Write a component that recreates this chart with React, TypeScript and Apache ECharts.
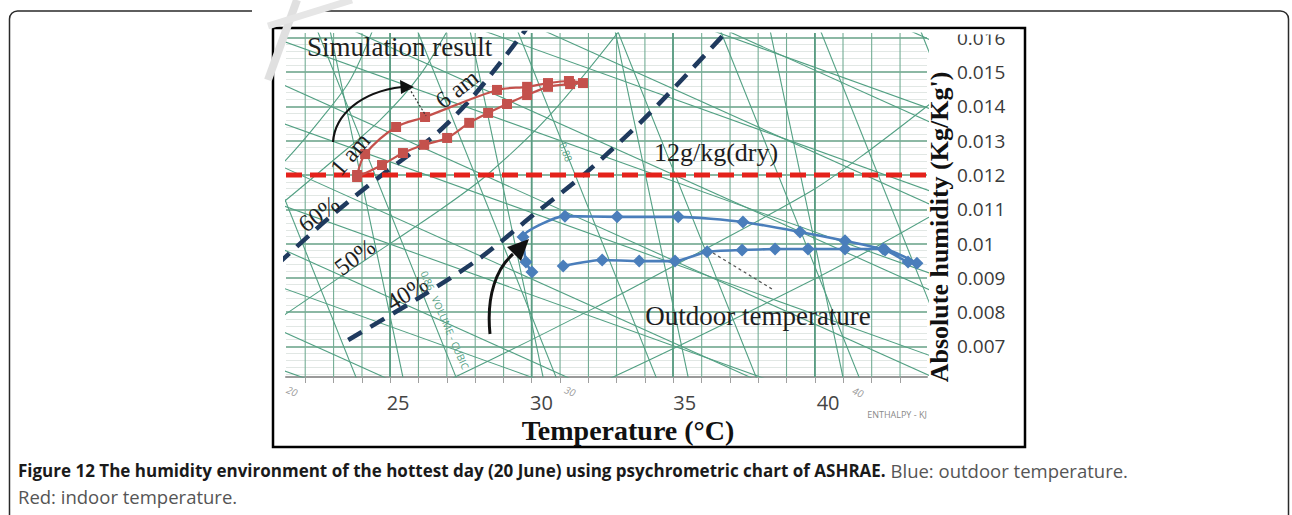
import { useEffect, useRef } from 'react';
import * as echarts from 'echarts';

// ---------- axes ----------
const temperatureTicks = [25, 30, 35, 40];
const temperatureRange = [21.09, 43.45];
const humidityRange = [0.00611, 0.01614];
const targetHumidity = 0.012; // 12 g/kg(dry)

// ---------- series: [dry-bulb temperature (°C), absolute humidity (kg/kg')] ----------
const indoorSimulation: number[][] = [
  [23.57, 0.01200], [23.85, 0.01261], [24.93, 0.01340], [25.94, 0.01369],
  [28.45, 0.01448], [29.5, 0.01457], [30.23, 0.01468], [30.96, 0.01474],
  [31.45, 0.01468], [31.0, 0.01465], [30.23, 0.01457], [29.5, 0.01433],
  [28.8, 0.01407], [28.14, 0.01381], [27.48, 0.01352], [26.71, 0.01308],
  [25.91, 0.01288], [25.17, 0.01264], [24.44, 0.01229], [23.57, 0.01194],
];
const outdoorObserved: number[][] = [
  [29.67, 0.00917], [29.46, 0.00946], [29.36, 0.01019], [30.82, 0.0108],
  [32.64, 0.01078], [34.77, 0.01078], [37.03, 0.01063], [39.02, 0.01034],
  [40.59, 0.01008], [41.99, 0.00981], [42.79, 0.00946], [43.1, 0.00943],
  [41.92, 0.00984], [40.59, 0.00984], [39.3, 0.00984], [38.15, 0.00984],
  [37.0, 0.00981], [35.78, 0.00976], [34.66, 0.00949], [33.41, 0.00949],
  [32.12, 0.00952], [30.76, 0.00935],
];

// ---------- psychrometric chart background ----------
const dryBulbLines = [21.76, 22.75, 23.74, 24.72, 25.71, 26.7, 27.69, 28.68, 29.66, 30.65, 31.64,
  32.62, 33.61, 34.59, 35.59, 36.58, 37.56, 38.55, 39.54, 40.52, 41.52, 42.51];
const dryBulbMajorLines = [24.72, 29.66, 34.59, 39.54];
// [t1, h1, t2, h2]
const enthalpyLines = [
  [20, 0.0248, 45, 0.0154], [20, 0.0224, 45, 0.013], [20, 0.02, 45, 0.0106], [20, 0.0175, 45, 0.0081],
  [20, 0.015, 45, 0.0056], [20, 0.0126, 45, 0.0032], [20, 0.0102, 45, 0.0008], [20, 0.0078, 45, -0.0016],
];
const wetBulbLines = [
  [20, 0.0234, 45, 0.0159], [20, 0.021, 45, 0.0135], [20, 0.0186, 45, 0.0111], [20, 0.0162, 45, 0.0087],
  [20, 0.0138, 45, 0.0063], [20, 0.0114, 45, 0.0039], [20, 0.009, 45, 0.0015], [20, 0.0066, 45, -0.0009],
];
const volumeLines = [
  [18.22, 0.0172, 23.82, 0.0055], [21.71, 0.0172, 27.31, 0.0055], [25.2, 0.0172, 30.8, 0.0055],
  [28.69, 0.0172, 34.29, 0.0055], [32.18, 0.0172, 37.78, 0.0055], [35.77, 0.0172, 41.37, 0.0055],
  [39.26, 0.0172, 44.86, 0.0055], [42.75, 0.0172, 48.35, 0.0055],
];
const steepLines = [
  [22.63, 0.0162, 25.17, 0.0061], [27.51, 0.0162, 30.06, 0.0061],
  [32.57, 0.0162, 35.12, 0.0061], [37.98, 0.0162, 40.52, 0.0061],
];
const rh80Curve = [[20.5, 0.012], [21.09, 0.01244], [22.28, 0.0136], [23.33, 0.01477], [24.2, 0.0164]];
const rh70Curve = [[20.5, 0.0109], [21.09, 0.01127], [22.63, 0.01235], [24.37, 0.0136], [25.77, 0.01492], [26.85, 0.0164]];
const rh50Curve = [[20.5, 0.0076], [21.09, 0.00795], [23.5, 0.00932], [26.46, 0.01098], [28.1, 0.012], [30.3, 0.01375], [32.9, 0.0164]];
const rh30Curve = [[26.0, 0.0058], [26.99, 0.00611], [31.7, 0.00806], [35.53, 0.00976], [39.47, 0.01156], [41.46, 0.01273], [43.6, 0.0141]];
const rh20Curve = [[31.5, 0.0058], [32.5, 0.00611], [38.08, 0.00836], [41.46, 0.00981], [44.0, 0.011]];
const rh60Dashed = [[20.8, 0.0094], [22.63, 0.01078], [24.48, 0.01203], [26.29, 0.01317], [27.51, 0.01419], [28.56, 0.01527], [29.6, 0.0164]];
const rh40Dashed = [[23.26, 0.00719], [25.77, 0.00844], [27.86, 0.00958], [29.71, 0.01083], [31.59, 0.01209], [33.79, 0.01381], [36.7, 0.0164]];

const SERIF = '"Liberation Serif", "Times New Roman", serif';
const SANS = '"Open Sans", "Noto Sans", sans-serif';
const GREEN = '#52a083';

function segments(list: number[][], color: string, width: number) {
  return list.map((s) => ({
    type: 'line', data: [[s[0], s[1]], [s[2], s[3]]], symbol: 'none', silent: true, z: 1,
    clip: true, lineStyle: { color, width },
  }));
}
function curve(data: number[][], lineStyle: any, z: number) {
  return { type: 'line', data, symbol: 'none', smooth: 0.3, silent: true, z, clip: true, lineStyle };
}
function label(text: string, x: number, y: number, size: number, rotation = 0, extra: any = {}) {
  return {
    type: 'text', x, y, rotation, z: 100, silent: true,
    style: {
      text, fill: extra.fill || '#1e1e1e', fontSize: size, fontFamily: extra.family || SERIF,
      fontWeight: extra.weight || 'normal', fontStyle: extra.style || 'normal',
      align: 'center', verticalAlign: 'middle', textAlign: 'center', textVerticalAlign: 'middle',
    },
  };
}

export default function App() {
  const ref = useRef<HTMLDivElement>(null);
  useEffect(() => {
    if (!ref.current) return;
    const chart = echarts.init(ref.current, undefined, { renderer: 'svg' });
    const verticals = dryBulbLines.map((t) => [t, humidityRange[0], t, humidityRange[1]]);
    const majors = dryBulbMajorLines.map((t) => [t, humidityRange[0], t, humidityRange[1]]);
    const option: any = {
      animation: false,
      backgroundColor: '#ffffff',
      grid: { left: 286, top: 33, width: 641, height: 344, containLabel: false },
      xAxis: {
        type: 'value', min: temperatureRange[0], max: temperatureRange[1],
        splitLine: { show: false },
        axisLine: { show: true, onZero: false, lineStyle: { color: '#9a9a9a', width: 2 } },
        axisTick: { show: true, customValues: dryBulbLines, length: 6, lineStyle: { color: '#a0a0a0', width: 1 } },
        axisLabel: { customValues: temperatureTicks, margin: 16, fontSize: 20, lineHeight: 18, color: '#444', fontFamily: SANS },
      },
      yAxis: {
        type: 'value', position: 'right', min: humidityRange[0], max: humidityRange[1],
        splitNumber: 10, minInterval: 0.001, maxInterval: 0.001,
        axisLine: { show: false }, axisTick: { show: false },
        axisLabel: {
          margin: 30, fontSize: 19, color: '#3a3a3a', fontFamily: SANS, showMinLabel: false, showMaxLabel: false,
          formatter: (v: number) => {
            const r = Math.round(v * 1000) / 1000;
            return Math.abs(v - r) < 1e-7 ? String(r) : '';
          },
        },
        splitLine: { show: true, showMinLine: false, showMaxLine: false, lineStyle: { color: '#8cb8a4', width: 2 } },
        minorTick: { show: false, splitNumber: 5 },
        minorSplitLine: { show: true, lineStyle: { color: '#e1e7e4', width: 1 } },
      },
      series: [
        ...segments(verticals, '#74ad95', 1.1),
        ...segments(majors, '#5a9c82', 1.8),
        ...segments(enthalpyLines, GREEN, 1.1),
        ...segments(wetBulbLines, GREEN, 1.1),
        ...segments(volumeLines, GREEN, 1.1),
        ...segments(steepLines, GREEN, 1.1),
        curve(rh80Curve, { color: GREEN, width: 1.1 }, 1),
        curve(rh70Curve, { color: GREEN, width: 1.1 }, 1),
        curve(rh50Curve, { color: GREEN, width: 1.1 }, 1),
        curve(rh30Curve, { color: GREEN, width: 1.1 }, 1),
        curve(rh20Curve, { color: GREEN, width: 1.1 }, 1),
        curve(rh60Dashed, { color: '#1f3a5e', width: 4.5, type: [16, 10] }, 3),
        curve(rh40Dashed, { color: '#1f3a5e', width: 4.5, type: [16, 10] }, 3),
        {
          type: 'line', name: 'target', silent: true, symbol: 'none', z: 4,
          data: [[temperatureRange[0], targetHumidity], [temperatureRange[1], targetHumidity]],
          lineStyle: { color: '#e4221b', width: 5, type: [16, 8] },
        },
        {
          type: 'line', name: 'Indoor (simulation)', data: indoorSimulation, smooth: 0.3, z: 5,
          symbol: 'rect', symbolSize: 10, itemStyle: { color: '#c4514c' },
          lineStyle: { color: '#c4514c', width: 2.2 },
        },
        {
          type: 'line', name: 'Outdoor', data: outdoorObserved, smooth: 0.2, z: 5,
          symbol: 'diamond', symbolSize: 13, itemStyle: { color: '#4a7ebb' },
          lineStyle: { color: '#4a7ebb', width: 2.6 },
        },
      ],
      graphic: [
        // outer figure frame
        { type: 'rect', silent: true, z: 0, shape: { x: 9.5, y: 11, width: 1279, height: 560, r: 8 },
          style: { fill: 'none', stroke: '#2a2a2a', lineWidth: 1.5 } },
        // watermark strokes
        { type: 'rect', silent: true, z: 1, shape: { x: 252, y: 0, width: 62, height: 16 }, style: { fill: '#ffffff' } },
        { type: 'polyline', silent: true, z: 2, shape: { points: [[297, 0], [268, 80]] }, style: { stroke: '#e0e0e0', lineWidth: 8, fill: 'none' } },
        { type: 'polyline', silent: true, z: 2, shape: { points: [[268, 26], [352, 0]] }, style: { stroke: '#e6e6e6', lineWidth: 7, fill: 'none' } },
        // inner picture box
        { type: 'rect', silent: true, z: 0, shape: { x: 273, y: 28, width: 752, height: 419 },
          style: { fill: 'none', stroke: '#000', lineWidth: 2.5 } },
        { type: 'rect', silent: true, z: 90, shape: { x: 950, y: 29.5, width: 70, height: 5 }, style: { fill: '#ffffff' } },
        // axis titles
        label('Temperature (\u00b0C)', 628, 430, 28, 0, { weight: 'bold', fill: '#111' }),
        label("Absolute humidity (Kg/Kg')", 939, 227, 26, Math.PI / 2, { weight: 'bold', fill: '#111' }),
        // annotations
        { type: 'text', x: 307, y: 47, z: 100, silent: true,
          style: { text: 'Simulation result', fill: '#1e1e1e', fontSize: 27, fontFamily: SERIF,
            align: 'left', verticalAlign: 'middle', textAlign: 'left', textVerticalAlign: 'middle' } },
        label('6 am', 457, 89, 24, 0.66),
        label('1 am', 350, 154, 24, 0.86),
        label('12g/kg(dry)', 716, 152, 26),
        label('60%', 319, 214, 24, 0.62),
        label('50%', 355, 257, 24, 0.63),
        label('40%', 407, 293, 24, 0.55),
        label('Outdoor temperature', 758, 316, 27),
        label('0.88', 566, 152, 10, -1.2, { fill: GREEN, family: SANS }),
        label('0.86   VOLUME - CUBIC', 445, 320, 10, -1.16, { fill: GREEN, family: SANS }),
        label('20', 292, 391, 10, -0.4, { fill: '#9a9a9a', family: SANS, style: 'italic' }),
        label('30', 570, 391, 10, -0.4, { fill: '#9a9a9a', family: SANS, style: 'italic' }),
        label('40', 858, 392, 10, -0.4, { fill: '#9a9a9a', family: SANS, style: 'italic' }),
        label('ENTHALPY - KJ', 897, 414, 9, 0, { fill: '#8a8a8a', family: SANS }),
        // indoor arrow
        { type: 'bezierCurve', silent: true, z: 100,
          shape: { x1: 333, y1: 142, cpx1: 335, cpy1: 115, cpx2: 360, cpy2: 92, x2: 402, y2: 87 },
          style: { stroke: '#111', lineWidth: 2.2, fill: 'none' } },
        { type: 'polygon', silent: true, z: 100, shape: { points: [[414, 87], [400, 80], [401, 94]] }, style: { fill: '#111' } },
        { type: 'line', silent: true, z: 100, shape: { x1: 409, y1: 88, x2: 426, y2: 116 },
          style: { stroke: '#333', lineWidth: 1.2, lineDash: [2, 2] } },
        // outdoor arrow
        { type: 'bezierCurve', silent: true, z: 100,
          shape: { x1: 490, y1: 334, cpx1: 486, cpy1: 295, cpx2: 497, cpy2: 268, x2: 513, y2: 254 },
          style: { stroke: '#111', lineWidth: 3, fill: 'none' } },
        { type: 'polygon', silent: true, z: 100, shape: { points: [[529, 239], [507, 247], [521, 261]] }, style: { fill: '#111' } },
        { type: 'line', silent: true, z: 100, shape: { x1: 713, y1: 253, x2: 772, y2: 289 },
          style: { stroke: '#555', lineWidth: 1.3, lineDash: [3, 3] } },
        // caption
        { type: 'text', x: 18, y: 470, z: 100, silent: true,
          style: {
            text: '{b|Figure 12 The humidity environment of the hottest day (20 June) using psychrometric chart of ASHRAE.}{n| Blue: outdoor temperature.}',
            verticalAlign: 'middle', textVerticalAlign: 'middle',
            rich: {
              b: { fontWeight: 'bold', fontSize: 17, fontFamily: SANS, fill: '#1a1a1a' },
              n: { fontSize: 18.5, fontFamily: SANS, fill: '#555' },
            },
          } },
        { type: 'text', x: 18, y: 496, z: 100, silent: true,
          style: { text: 'Red: indoor temperature.', fontSize: 18.5, fontFamily: SANS, fill: '#555',
            verticalAlign: 'middle', textVerticalAlign: 'middle' } },
      ],
    };
    chart.setOption(option);
    return () => chart.dispose();
  }, []);
  return <div ref={ref} style={{ position: 'fixed', left: 0, top: 0, width: 1292, height: 515, background: '#fff' }} />;
}
